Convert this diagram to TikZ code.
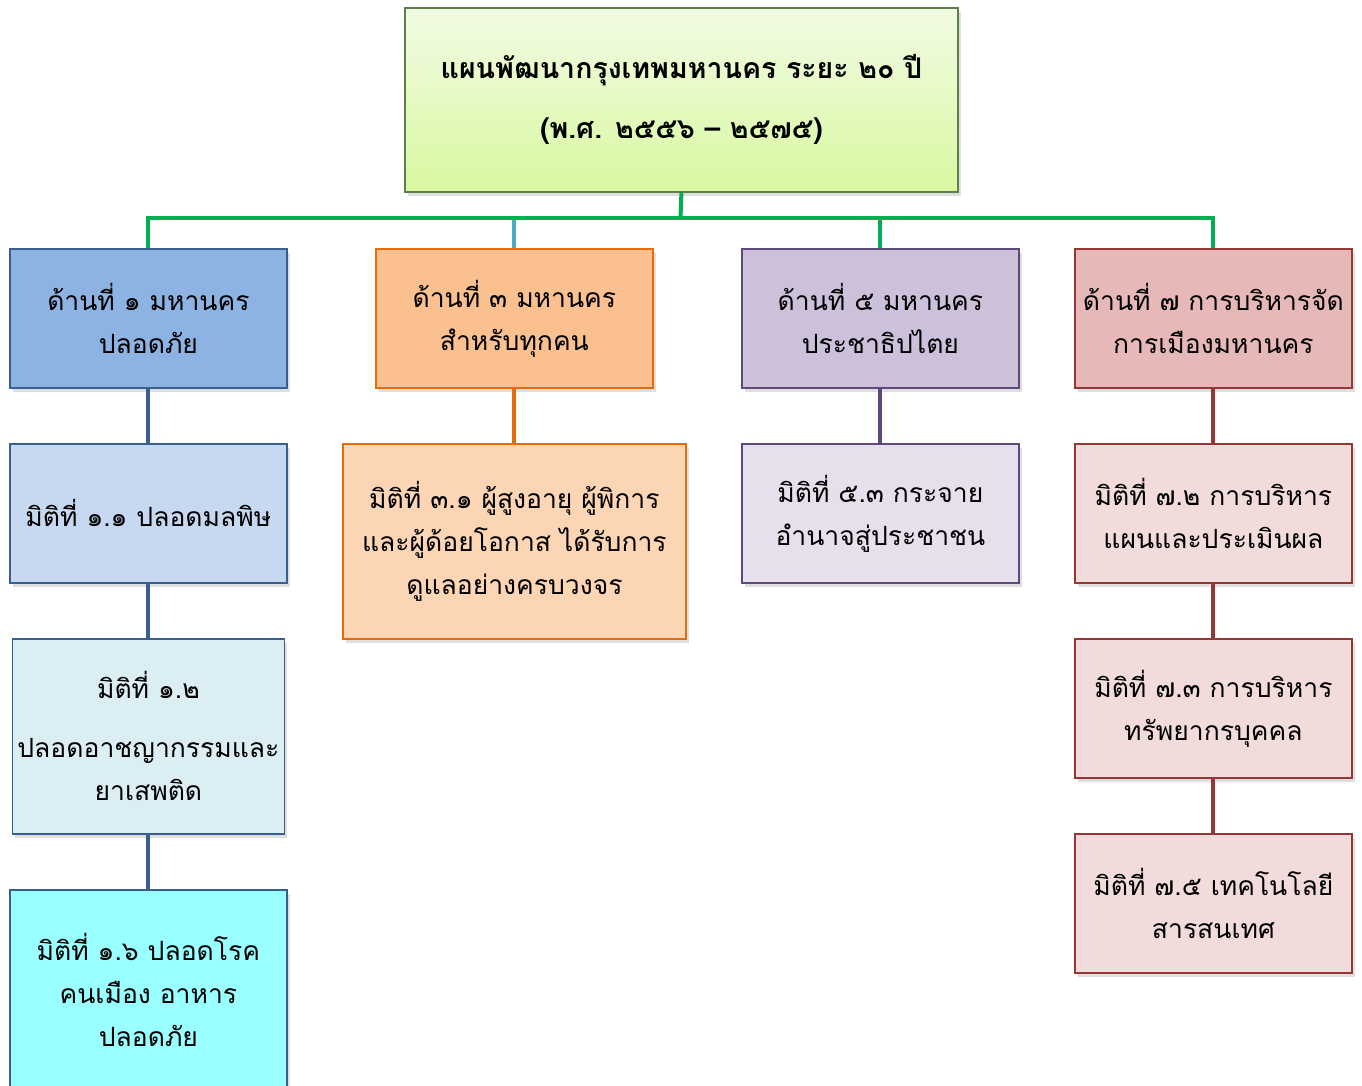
\documentclass[tikz,border=0pt]{standalone}
\usepackage{fontspec}
\newfontfamily\thai[Script=Thai]{Loma}
\usetikzlibrary{shadows}
\definecolor{busgreen}{HTML}{00B050}
\definecolor{lblue}{HTML}{4BACC6}
\definecolor{dblue}{HTML}{3A5F8E}
\definecolor{dorange}{HTML}{E46C0A}
\definecolor{dpurple}{HTML}{5F497A}
\definecolor{dred}{HTML}{953735}
\definecolor{fblueA}{HTML}{8DB3E2}
\definecolor{fblueB}{HTML}{C6D9F1}
\definecolor{fblueC}{HTML}{DBEEF4}
\definecolor{fcyan}{HTML}{99FFFF}
\definecolor{forangeA}{HTML}{FAC090}
\definecolor{forangeB}{HTML}{FCD5B5}
\definecolor{fpurpleA}{HTML}{CCC0DA}
\definecolor{fpurpleB}{HTML}{E6E0EC}
\definecolor{fredA}{HTML}{E6B9B8}
\definecolor{fredB}{HTML}{F2DCDB}
\definecolor{topborder}{HTML}{5E7F4C}
\definecolor{topA}{HTML}{F2FBE4}
\definecolor{topB}{HTML}{D8F8A0}
\begin{document}
\begin{tikzpicture}[x=1pt,y=1pt,
  box/.style={draw, line width=1.8pt, anchor=north west, align=center,
    inner sep=0pt, font=\thai\fontsize{26.5}{43}\selectfont,
    drop shadow={opacity=0.25, shadow xshift=3pt, shadow yshift=-4pt}},
  conn/.style={line width=4pt}]
\useasboundingbox (0,0) rectangle (1362,-1086);
\clip (0,0) rectangle (1362,-1086);
% top
\node[box, draw=topborder, top color=topA, bottom color=topB,
  minimum width=553, minimum height=184,
  font=\thai\bfseries\fontsize{28.5}{60}\selectfont] (top) at (404,-7)
  {แผนพัฒนากรุงเทพมหานคร ระยะ ๒๐ ปี\\(พ.ศ. ๒๕๕๖ – ๒๕๗๕)};
% level 1
\node[box, draw=dblue, fill=fblueA, minimum width=277, minimum height=139] (b1) at (9,-248)
  {ด้านที่ ๑ มหานคร\\ปลอดภัย};
\node[box, draw=dorange, fill=forangeA, minimum width=277, minimum height=139] (b3) at (375,-248)
  {ด้านที่ ๓ มหานคร\\สำหรับทุกคน};
\node[box, draw=dpurple, fill=fpurpleA, minimum width=277, minimum height=139] (b5) at (741,-248)
  {ด้านที่ ๕ มหานคร\\ประชาธิปไตย};
\node[box, draw=dred, fill=fredA, minimum width=277, minimum height=139] (b7) at (1074,-248)
  {ด้านที่ ๗ การบริหารจัด\\การเมืองมหานคร};
% level 2
\node[box, draw=dblue, fill=fblueB, minimum width=277, minimum height=139] (d11) at (9,-443)
  {มิติที่ ๑.๑ ปลอดมลพิษ};
\node[box, draw=dblue, fill=fblueC, minimum width=272, minimum height=195] (d12) at (11.5,-638)
  {มิติที่ ๑.๒\\[16pt]ปลอดอาชญากรรมและ\\ยาเสพติด};
\node[box, draw=dblue, fill=fcyan, minimum width=277, minimum height=200] (d16) at (9,-889)
  {มิติที่ ๑.๖ ปลอดโรค\\คนเมือง อาหาร\\ปลอดภัย};
\node[box, draw=dorange, fill=forangeB, minimum width=343, minimum height=195] (d31) at (342,-443)
  {มิติที่ ๓.๑ ผู้สูงอายุ ผู้พิการ\\และผู้ด้อยโอกาส ได้รับการ\\ดูแลอย่างครบวงจร};
\node[box, draw=dpurple, fill=fpurpleB, minimum width=277, minimum height=139] (d53) at (741,-443)
  {มิติที่ ๕.๓ กระจาย\\อำนาจสู่ประชาชน};
\node[box, draw=dred, fill=fredB, minimum width=277, minimum height=139] (d72) at (1074,-443)
  {มิติที่ ๗.๒ การบริหาร\\แผนและประเมินผล};
\node[box, draw=dred, fill=fredB, minimum width=277, minimum height=139] (d73) at (1074,-638)
  {มิติที่ ๗.๓ การบริหาร\\ทรัพยากรบุคคล};
\node[box, draw=dred, fill=fredB, minimum width=277, minimum height=139] (d75) at (1074,-833)
  {มิติที่ ๗.๕ เทคโนโลยี\\สารสนเทศ};
% connectors
\coordinate (bus) at (680.5,-218);
\draw[conn, lblue] (b3.north) -- (b3.north |- bus);
\draw[conn, busgreen, line join=miter] (b1.north) -- (b1.north |- bus) -- (b7.north |- bus) -- (b7.north);
\draw[conn, busgreen] (top.south) -- (bus);
\draw[conn, busgreen] (b5.north |- bus) -- (b5.north);
\draw[conn, dblue] (b1.south) -- (d11.north);
\draw[conn, dblue] (d11.south) -- (d12.north);
\draw[conn, dblue] (d12.south) -- (d12.south |- d16.north);
\draw[conn, dorange] (b3.south) -- (d31.north);
\draw[conn, dpurple] (b5.south) -- (d53.north);
\draw[conn, dred] (b7.south) -- (d72.north);
\draw[conn, dred] (d72.south) -- (d73.north);
\draw[conn, dred] (d73.south) -- (d75.north);
\end{tikzpicture}
\end{document}
